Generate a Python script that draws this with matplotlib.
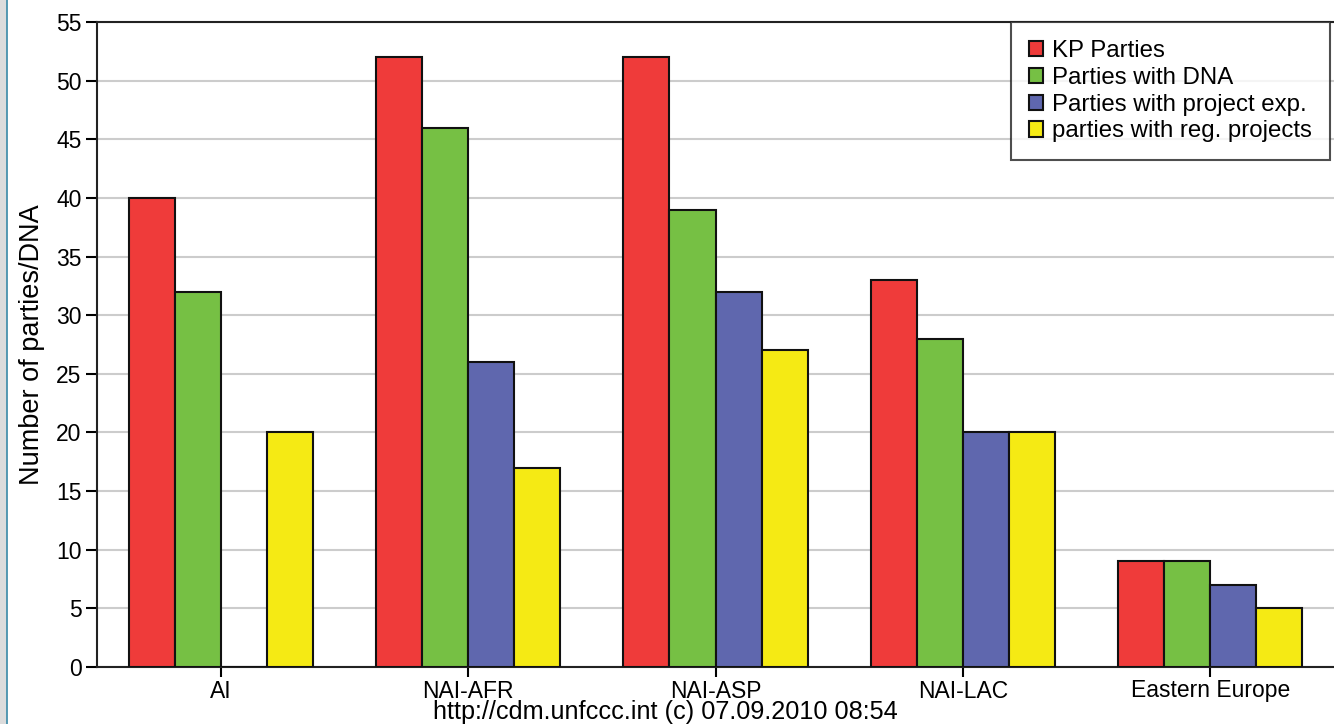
import matplotlib.pyplot as plt
import numpy as np
from matplotlib.patches import Rectangle
from matplotlib.lines import Line2D

plt.rcParams['font.family'] = ['Liberation Sans', 'DejaVu Sans']

regions = ['AI', 'NAI-AFR', 'NAI-ASP', 'NAI-LAC', 'Eastern Europe']
series_names = ['KP Parties', 'Parties with DNA', 'Parties with project exp.',
                'parties with reg. projects']
kp_parties = [40, 52, 52, 33, 9]
with_dna = [32, 46, 39, 28, 9]
project_exp = [0, 26, 32, 20, 7]
reg_projects = [20, 17, 27, 20, 5]
colors = ['#EF3B3A', '#76C044', '#5F67AE', '#F5EA14']


def main():
    fig = plt.figure(figsize=(13.34, 7.24), dpi=100)
    ax = fig.add_axes([97 / 1334, 1 - 667 / 724, (1334 - 97) / 1334, (667 - 22) / 724])

    # gray strip and blue frame line at the left edge
    fig.add_artist(Rectangle((0, 0), 6 / 1334, 1, transform=fig.transFigure,
                             color='#dcdcdc', zorder=0))
    fig.add_artist(Line2D([7 / 1334, 7 / 1334], [0, 1], transform=fig.transFigure,
                          color='#3a8aa8', lw=1.2))

    x = np.arange(len(regions))
    w = 0.186
    all_series = [kp_parties, with_dna, project_exp, reg_projects]
    for i, (vals, name, c) in enumerate(zip(all_series, series_names, colors)):
        ax.bar(x + (i - 1.5) * w, vals, w, color=c, edgecolor='#111111',
               linewidth=1.5, label=name, zorder=3)

    ax.set_xlim(-0.5, 4.5)
    ax.set_ylim(0, 55)
    ax.set_yticks(range(0, 56, 5))
    ax.set_xticks(x)
    ax.set_xticklabels(regions)
    ax.grid(axis='y', color='#cccccc', linewidth=1.5, zorder=0)
    ax.set_axisbelow(True)

    for s in ['left', 'bottom', 'top']:
        ax.spines[s].set_linewidth(1.5)
        ax.spines[s].set_color('#222222')
    ax.spines['right'].set_visible(False)
    ax.tick_params(axis='y', length=8, width=1.5, labelsize=16.5, pad=3)
    ax.tick_params(axis='x', length=7, width=1.5, labelsize=16.5, pad=2)

    ax.set_ylabel('Number of parties/DNA', fontsize=19.5, labelpad=8)
    fig.text(665 / 1334, 1 - 712 / 724, 'http://cdm.unfccc.int (c) 07.09.2010 08:54',
             ha='center', va='center', fontsize=18.2)

    leg = ax.legend(loc='upper right', fontsize=17.3, frameon=True, fancybox=False,
                    edgecolor='#222222', borderpad=0.75, handlelength=0.6,
                    handleheight=0.6, handletextpad=0.35, labelspacing=0.2,
                    borderaxespad=0, bbox_to_anchor=(0.9965, 1.0))
    leg.get_frame().set_linewidth(1.5)

    fig.savefig('out.png', dpi=100)


if __name__ == "__main__":
    main()
